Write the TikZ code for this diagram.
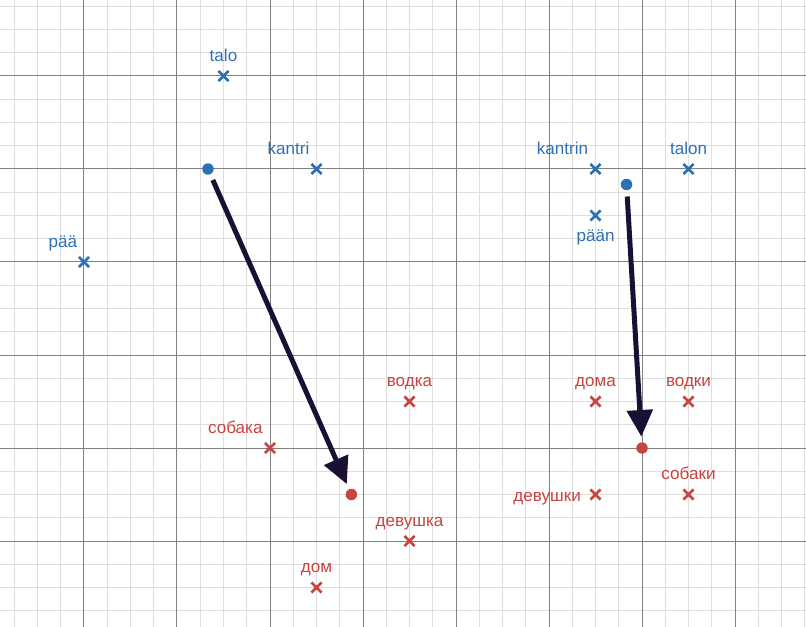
\documentclass[tikz,border=0pt]{standalone}
\usepackage{fontspec}
\setmainfont{Liberation Sans}
\definecolor{ptblue}{RGB}{45,112,179}
\definecolor{ptred}{RGB}{199,68,64}
\definecolor{vecnavy}{RGB}{26,16,52}
\definecolor{minorgray}{RGB}{222,222,222}
\definecolor{majorgray}{RGB}{128,128,128}
\usetikzlibrary{shapes.misc, arrows.meta, positioning}

\tikzset{
  wordx/.style={cross out, draw=#1, line width=2pt, minimum size=5.6pt, inner sep=0pt},
  worddot/.style={circle, fill=#1, minimum size=8.6pt, inner sep=0pt},
  wordlbl/.style={text=#1, font=\fontsize{12.8}{15}\selectfont, inner sep=0pt, text depth=0pt},
  vecarrow/.style={draw=vecnavy, line width=3.75pt, -{Triangle[length=20pt,width=19pt]}, shorten <=4.5pt, shorten >=4pt},
}

\begin{document}
\begin{tikzpicture}[x=69.75pt, y=69.75pt]
  \useasboundingbox (-0.903,-3.914) rectangle (7.763,2.817);
  \clip (-0.903,-3.914) rectangle (7.763,2.817);
  \draw[minorgray, line width=0.75pt, step=0.25] (-1,-4) grid (8,3);
  \draw[majorgray, line width=0.75pt, step=1] (-1,-4) grid (8,3);

  % Finnish words (blue)
  \node[wordx=ptblue, label={[wordlbl=ptblue, label distance=7pt]above:talo}] (talo) at (1.5,2) {};
  \node[wordx=ptblue, label={[wordlbl=ptblue, label distance=7pt, xshift=-21pt]above:kantri}] (kantri) at (2.5,1) {};
  \node[wordx=ptblue, label={[wordlbl=ptblue, label distance=7pt, xshift=-15.75pt]above:pää}] (paa) at (0,0) {};
  \node[wordx=ptblue, label={[wordlbl=ptblue, label distance=7pt, xshift=-24.75pt]above:kantrin}] (kantrin) at (5.5,1) {};
  \node[wordx=ptblue, label={[wordlbl=ptblue, label distance=7pt]above:talon}] (talon) at (6.5,1) {};
  \node[wordx=ptblue, label={[wordlbl=ptblue, label distance=7pt]below:pään}] (paan) at (5.5,0.5) {};

  % Russian words (red)
  \node[wordx=ptred, label={[wordlbl=ptred, label distance=7pt]above:водка}] (vodka) at (3.5,-1.5) {};
  \node[wordx=ptred, label={[wordlbl=ptred, label distance=7pt, xshift=-26pt]above:собака}] (sobaka) at (2,-2) {};
  \node[wordx=ptred, label={[wordlbl=ptred, label distance=7pt]above:девушка}] (devushka) at (3.5,-3) {};
  \node[wordx=ptred, label={[wordlbl=ptred, label distance=7pt]above:дом}] (dom) at (2.5,-3.5) {};
  \node[wordx=ptred, label={[wordlbl=ptred, label distance=7pt]above:дома}] (doma) at (5.5,-1.5) {};
  \node[wordx=ptred, label={[wordlbl=ptred, label distance=7pt]above:водки}] (vodki) at (6.5,-1.5) {};
  \node[wordx=ptred, label={[wordlbl=ptred, label distance=7pt, yshift=-2pt]left:девушки}] (devushki) at (5.5,-2.5) {};
  \node[wordx=ptred, label={[wordlbl=ptred, label distance=7pt]above:собаки}] (sobaki) at (6.5,-2.5) {};

  % centroids
  \node[worddot=ptblue] (fibase) at (1.3333,1) {};
  \node[worddot=ptred] (rubase) at (2.875,-2.5) {};
  \node[worddot=ptblue] (figen) at (5.8333,0.8333) {};
  \node[worddot=ptred] (rugen) at (6,-2) {};

  \draw[vecarrow] (fibase) -- (rubase);
  \draw[vecarrow] (figen) -- (rugen);
\end{tikzpicture}
\end{document}
